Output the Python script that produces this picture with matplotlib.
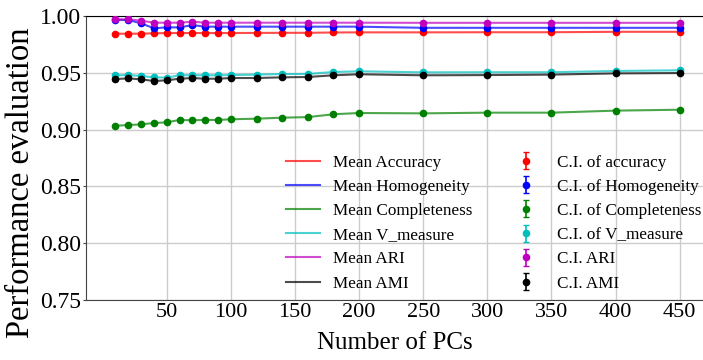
import matplotlib
matplotlib.use("Agg")
import matplotlib.pyplot as plt

plt.rcParams['font.family'] = ['Liberation Serif', 'DejaVu Serif']

n_pcs = [10, 20, 30, 40, 50, 60, 70, 80, 90, 100, 120, 140, 160, 180, 200, 250, 300, 350, 400, 450]

accuracy = [0.9844, 0.9844, 0.9845, 0.9847, 0.9850, 0.9850, 0.9850, 0.9850, 0.9850, 0.9850,
            0.9851, 0.9852, 0.9852, 0.9855, 0.9856, 0.9856, 0.9857, 0.9857, 0.9861, 0.9861]
homogeneity = [0.9965, 0.9965, 0.9935, 0.9892, 0.9900, 0.9900, 0.9920, 0.9906, 0.9906, 0.9906,
               0.9906, 0.9906, 0.9906, 0.9906, 0.9906, 0.9896, 0.9896, 0.9896, 0.9896, 0.9896]
completeness = [0.9034, 0.9040, 0.9046, 0.9058, 0.9064, 0.9085, 0.9082, 0.9085, 0.9085, 0.9091,
                0.9096, 0.9105, 0.9110, 0.9135, 0.9146, 0.9143, 0.9149, 0.9149, 0.9167, 0.9175]
v_measure = [0.9478, 0.9480, 0.9472, 0.9460, 0.9458, 0.9478, 0.9478, 0.9478, 0.9478, 0.9480,
             0.9484, 0.9489, 0.9490, 0.9507, 0.9513, 0.9504, 0.9505, 0.9505, 0.9516, 0.9522]
ari = [0.9971, 0.9971, 0.9959, 0.9941, 0.9941, 0.9941, 0.9950, 0.9941, 0.9941, 0.9941,
       0.9941, 0.9941, 0.9941, 0.9941, 0.9941, 0.9940, 0.9940, 0.9940, 0.9940, 0.9940]
ami = [0.9445, 0.9451, 0.9442, 0.9428, 0.9434, 0.9448, 0.9454, 0.9448, 0.9448, 0.9454,
       0.9454, 0.9460, 0.9463, 0.9478, 0.9487, 0.9478, 0.9480, 0.9484, 0.9495, 0.9498]

ci_half = [0.0004, 0.0004, 0.0004, 0.0004, 0.0004, 0.0004]

series = [accuracy, homogeneity, completeness, v_measure, ari, ami]
colors = ['r', 'b', 'g', 'c', 'm', 'k']
mean_labels = ['Mean Accuracy', 'Mean Homogeneity', 'Mean Completeness',
               'Mean V_measure', 'Mean ARI', 'Mean AMI']
ci_labels = ['C.I. of accuracy', 'C.I. of Homogeneity', 'C.I. of Completeness',
             'C.I. of V_measure', 'C.I. ARI', 'C.I. AMI']
xticks = [50, 100, 150, 200, 250, 300, 350, 400, 450]
yticks = [0.75, 0.80, 0.85, 0.90, 0.95, 1.00]

fig = plt.figure(figsize=(7.03, 3.60), dpi=100)
ax = fig.add_axes([86 / 703, 60 / 360, 618 / 703, 284 / 360])

line_handles = []
ci_handles = []
for ys, c, ml, cl, ci in zip(series, colors, mean_labels, ci_labels, ci_half):
    ln, = ax.plot(n_pcs, ys, color=c, alpha=0.7, lw=1.5, label=ml, zorder=2)
    eb = ax.errorbar(n_pcs, ys, yerr=ci, fmt='o', color=c, markersize=4.5,
                     capsize=2.5, elinewidth=1.2, label=cl, zorder=3)
    line_handles.append(ln)
    ci_handles.append(eb)

ax.set_xlim(-13, 469)
ax.set_ylim(0.75, 1.0)
ax.set_xticks(xticks)
ax.set_xticklabels([str(t) for t in xticks])
ax.set_yticks(yticks)
ax.set_yticklabels(['%.2f' % t for t in yticks])
ax.tick_params(axis='x', length=0, labelsize=16, pad=2.5)
ax.tick_params(axis='y', length=2.5, labelsize=17, pad=1, color='#444444')
ax.grid(True, color='#cccccc', lw=1.0)
ax.set_axisbelow(True)
ax.spines['right'].set_visible(False)
ax.spines['top'].set_color('black')
ax.spines['left'].set_color('#444444')
ax.spines['bottom'].set_color('#444444')

ax.set_xlabel('Number of PCs', fontsize=18, labelpad=7)
ax.set_ylabel('Performance evaluation', fontsize=23.5, labelpad=3)
ax.yaxis.label.set_y(0.412)

ax.legend(line_handles + ci_handles, mean_labels + ci_labels, ncol=2, frameon=False,
          fontsize=12.3, loc='center', bbox_to_anchor=(0.659, 0.271),
          labelspacing=0.48, columnspacing=2.1, handletextpad=0.8)

fig.savefig('out.png', dpi=100)
